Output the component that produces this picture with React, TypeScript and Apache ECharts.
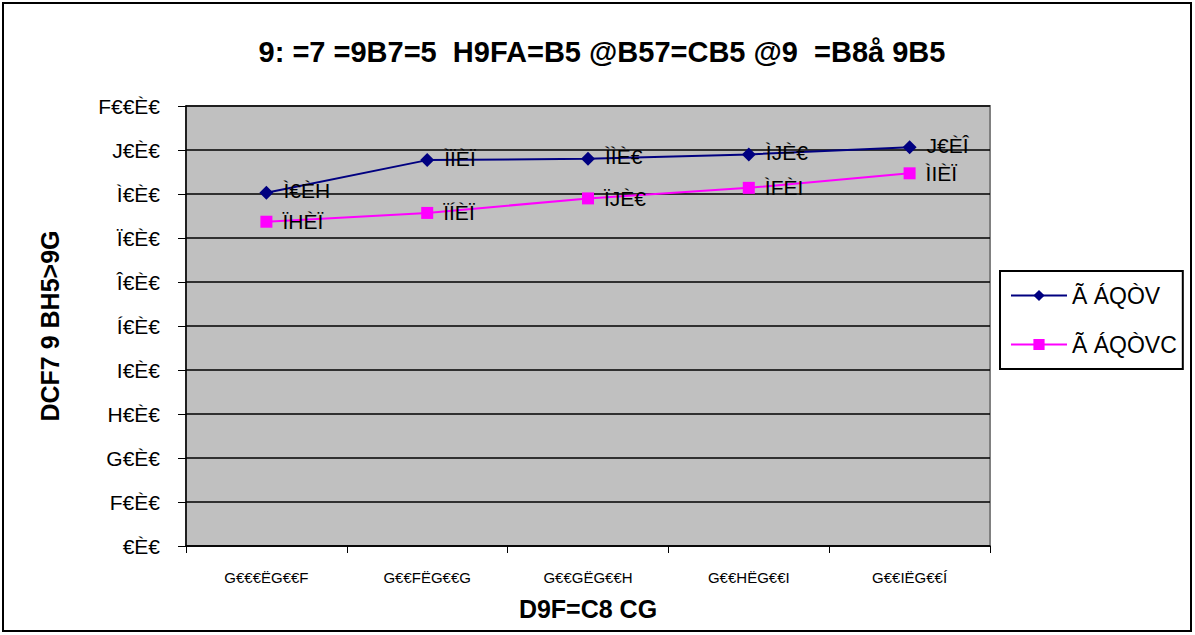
import React, { useEffect, useRef } from "react";
import * as echarts from "echarts";

const categories = ["G€€€ËG€€F", "G€€FËG€€G", "G€€GËG€€H", "G€€HËG€€I", "G€€IËG€€Í"];
const seriesNames = ["Ã ÁQÒV", "Ã ÁQÒVC"];
const blueValues = [80.3, 87.7, 88.0, 89.0, 90.6];
const pinkValues = [73.7, 75.7, 79.0, 81.4, 84.7];
const blueLabels = ["Ì€ÈH", "ÌÏÈÏ", "ÌÌÈ€", "ÌJÈ€", "J€ÈÎ"];
const pinkLabels = ["ÏHÈÏ", "ÏÍÈÏ", "ÏJÈ€", "ÌFÈI", "ÌIÈÏ"];
const yTickLabels = ["€È€", "F€È€", "G€È€", "H€È€", "I€È€", "Í€È€", "Î€È€", "Ï€È€", "Ì€È€", "J€È€", "F€€È€"];
const titleText = "9: =7 =9B7=5  H9FA=B5 @B57=CB5 @9  =B8å 9B5";
const xAxisName = "D9F=C8 CG";
const yAxisName = "DCF7 9 BH5>9G";

const FONT = "'Liberation Sans', Arial, sans-serif";

export default function App() {
  const ref = useRef<HTMLDivElement>(null);
  useEffect(() => {
    if (!ref.current) return;
    const chart = echarts.init(ref.current, null, { renderer: "svg" });
    chart.setOption({
      animation: false,
      backgroundColor: "#ffffff",
      textStyle: { fontFamily: FONT },
      title: {
        text: titleText,
        left: 597,
        top: 32,
        textAlign: "center",
        textStyle: { fontFamily: FONT, fontSize: 29, fontWeight: "bold", color: "#000" },
      },
      graphic: [
        {
          type: "rect",
          shape: { x: 3, y: 3, width: 1188, height: 628 },
          style: { fill: "none", stroke: "#000", lineWidth: 2 },
          z: 100,
        },
      ],
      legend: {
        orient: "vertical",
        left: 1000,
        top: 271,
        padding: [13, 6, 13, 10],
        itemGap: 26,
        itemWidth: 56,
        itemHeight: 14,
        borderColor: "#000",
        borderWidth: 2,
        backgroundColor: "#fff",
        textStyle: { fontFamily: FONT, fontSize: 23, color: "#000", width: 114, overflow: "truncate", ellipsis: "" },
        data: seriesNames,
      },
      grid: {
        left: 186,
        top: 106,
        right: 205,
        bottom: 89,
        show: true,
        backgroundColor: "#C0C0C0",
        borderColor: "#808080",
        borderWidth: 2,
      },
      xAxis: {
        type: "category",
        data: categories,
        boundaryGap: true,
        name: xAxisName,
        nameLocation: "middle",
        nameGap: 50,
        nameTextStyle: { fontFamily: FONT, fontSize: 25, fontWeight: "bold", color: "#000" },
        axisLine: { lineStyle: { color: "#000", width: 1.5 } },
        axisTick: { show: true, length: 7, alignWithLabel: false, lineStyle: { color: "#000" } },
        axisLabel: { fontFamily: FONT, fontSize: 15, color: "#000", margin: 24 },
      },
      yAxis: {
        type: "value",
        min: 0,
        max: 100,
        interval: 10,
        name: yAxisName,
        nameLocation: "middle",
        nameRotate: 90,
        nameGap: 124,
        nameTextStyle: { fontFamily: FONT, fontSize: 25, fontWeight: "bold", color: "#000" },
        axisLine: { show: true, lineStyle: { color: "#000", width: 1.5 } },
        axisTick: { show: true, length: 8, lineStyle: { color: "#000" } },
        axisLabel: {
          fontFamily: FONT,
          fontSize: 21,
          color: "#000",
          margin: 26,
          formatter: (v: number) => yTickLabels[Math.round(v / 10)] ?? "",
        },
        splitLine: { show: true, lineStyle: { color: "#000", width: 1.5 } },
      },
      series: [
        {
          name: seriesNames[0],
          type: "line",
          data: blueValues,
          symbol: "diamond",
          symbolSize: 14,
          itemStyle: { color: "#000080" },
          lineStyle: { color: "#000080", width: 2 },
          label: {
            show: true,
            position: "right",
            distance: 10,
            offset: [0, -2],
            fontFamily: FONT,
            fontSize: 21,
            color: "#000",
            formatter: (p: any) => blueLabels[p.dataIndex],
          },
          z: 3,
        },
        {
          name: seriesNames[1],
          type: "line",
          data: pinkValues,
          symbol: "rect",
          symbolSize: 12,
          itemStyle: { color: "#FF00FF" },
          lineStyle: { color: "#FF00FF", width: 2 },
          label: {
            show: true,
            position: "right",
            distance: 10,
            fontFamily: FONT,
            fontSize: 21,
            color: "#000",
            formatter: (p: any) => pinkLabels[p.dataIndex],
          },
          z: 2,
        },
      ],
    });
    return () => chart.dispose();
  }, []);
  return (
    <div
      ref={ref}
      style={{ position: "fixed", left: 0, top: 0, width: 1195, height: 635 }}
    />
  );
}
